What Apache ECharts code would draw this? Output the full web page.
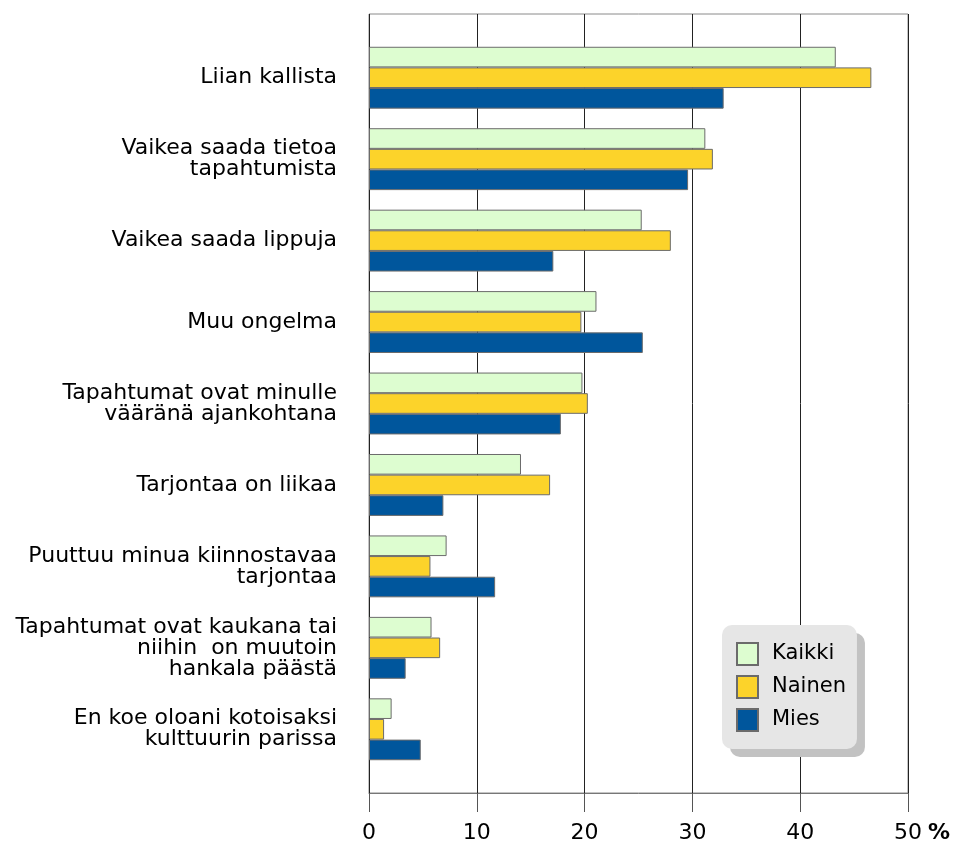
<!DOCTYPE html>
<html>
<head>
<meta charset="utf-8">
<script src="https://cdn.jsdelivr.net/npm/echarts@6/dist/echarts.min.js"></script>
<style>
  html, body { margin: 0; padding: 0; background: #fff; }
  #chart { width: 960px; height: 845px; }
</style>
</head>
<body>
<div id="chart"></div>
<script>
const categories = [
  'Liian kallista',
  'Vaikea saada tietoa\ntapahtumista',
  'Vaikea saada lippuja',
  'Muu ongelma',
  'Tapahtumat ovat minulle\nvääränä ajankohtana',
  'Tarjontaa on liikaa',
  'Puuttuu minua kiinnostavaa\ntarjontaa',
  'Tapahtumat ovat kaukana tai\nniihin  on muutoin\nhankala päästä',
  'En koe oloani kotoisaksi\nkulttuurin parissa'
]
const kaikki = [43.3, 31.2, 25.3, 21.1, 19.8, 14.1, 7.2, 5.8, 2.1]
const nainen = [46.6, 31.9, 28.0, 19.7, 20.3, 16.8, 5.7, 6.6, 1.4]
const mies = [32.9, 29.6, 17.1, 25.4, 17.8, 6.9, 11.7, 3.4, 4.8]
const seriesNames = ['Kaikki', 'Nainen', 'Mies']
const colors = ['#ddfdd0', '#fcd32a', '#00569c']

const font = 'DejaVu Sans, Verdana, sans-serif'

function barSeries(name, data, color) {
  return {
    name: name,
    type: 'bar',
    xAxisIndex: 1,
    yAxisIndex: 1,
    data: data,
    barGap: '0%',
    barCategoryGap: '24%',
    itemStyle: { color: color, borderColor: '#6b6b6b', borderWidth: 1 },
    emphasis: { disabled: true }
  }
}

const chart = echarts.init(document.getElementById('chart'))
chart.setOption({
  backgroundColor: '#fff',
  animation: false,
  textStyle: { fontFamily: font },
  grid: [
    // frame, grid lines and scale
    { left: 369, right: 52, top: 14, bottom: 52, show: true, borderColor: '#8a8a8a', borderWidth: 1 },
    // bars
    { left: 369, right: 52, top: 37, bottom: 75 }
  ],
  xAxis: [
    {
      gridIndex: 0,
      type: 'value',
      min: 0,
      max: 50,
      interval: 10,
      axisLine: { show: true, lineStyle: { color: '#777', width: 1 } },
      axisTick: { show: true, length: 19, lineStyle: { color: '#555' } },
      axisLabel: { fontSize: 22, color: '#000', margin: 29, fontFamily: font },
      splitLine: { show: true, lineStyle: { color: '#222', width: 1 } },
      name: '%',
      nameLocation: 'end',
      nameGap: 20,
      nameTextStyle: {
        fontWeight: 'bold', fontSize: 22, color: '#000', fontFamily: font,
        verticalAlign: 'top', padding: [29, 0, 0, 0]
      }
    },
    { gridIndex: 1, type: 'value', min: 0, max: 50, show: false }
  ],
  yAxis: [
    { gridIndex: 0, type: 'value', show: false },
    {
      gridIndex: 1,
      type: 'category',
      inverse: true,
      data: categories,
      axisLine: { show: false },
      axisTick: { show: false },
      axisLabel: { fontSize: 22, lineHeight: 21, color: '#000', margin: 32, fontFamily: font }
    }
  ],
  legend: {
    orient: 'vertical',
    left: 722,
    top: 625,
    data: seriesNames,
    icon: 'rect',
    itemWidth: 21,
    itemHeight: 22,
    itemGap: 9,
    padding: [17, 11, 17, 14],
    backgroundColor: '#e6e6e6',
    borderRadius: 10,
    shadowColor: '#c2c2c2',
    shadowBlur: 0,
    shadowOffsetX: 8,
    shadowOffsetY: 8,
    textStyle: { fontSize: 21, color: '#000', fontFamily: font, padding: [0, 0, 0, 9] },
    selectedMode: false
  },
  series: [
    barSeries(seriesNames[0], kaikki, colors[0]),
    barSeries(seriesNames[1], nainen, colors[1]),
    barSeries(seriesNames[2], mies, colors[2])
  ]
})
</script>
</body>
</html>
